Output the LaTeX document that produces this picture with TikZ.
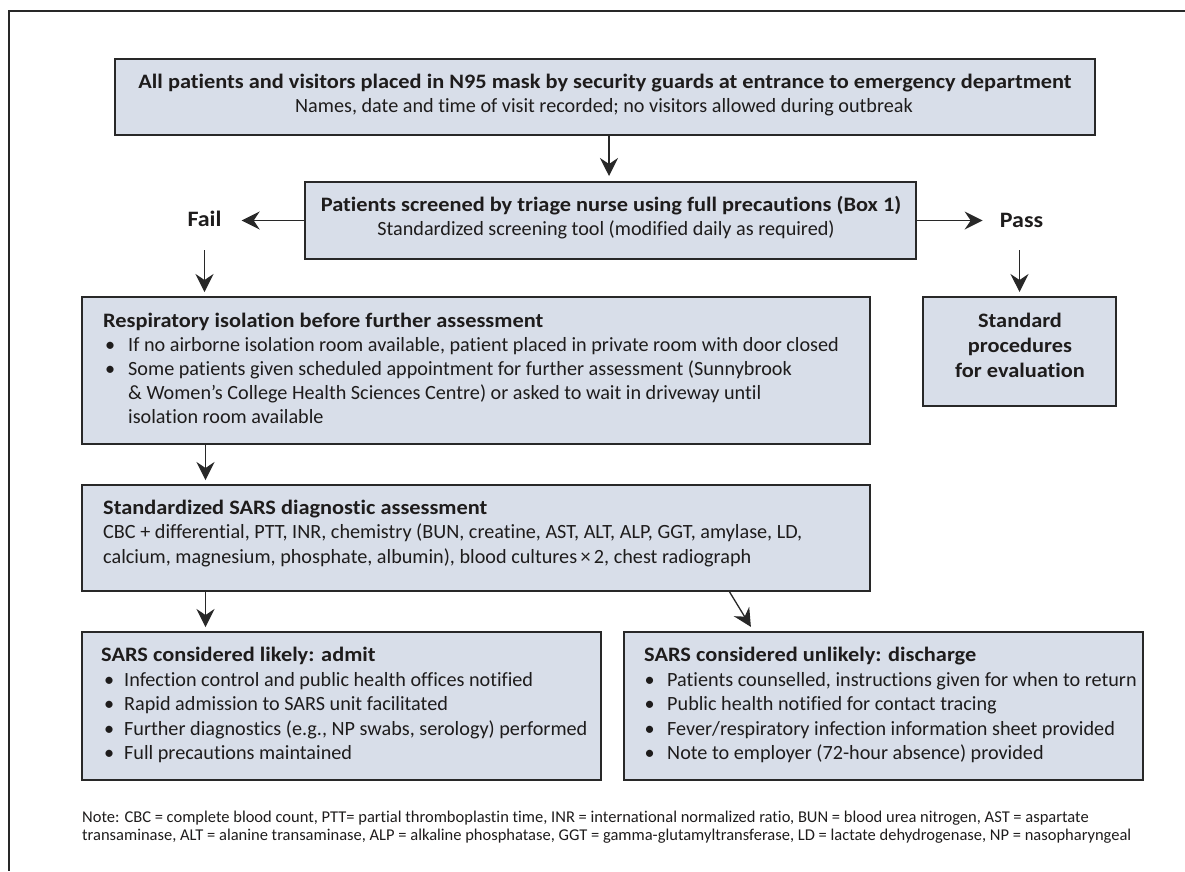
\documentclass[tikz,border=0pt]{standalone}
\usepackage{fontspec}
\setmainfont{Carlito}[Ligatures=NoCommon, BoldFeatures={FakeStretch=1.09}]
\usetikzlibrary{arrows.meta}
\definecolor{boxfill}{RGB}{216,222,233}
\definecolor{edge}{RGB}{40,40,40}
\definecolor{ink}{RGB}{30,28,28}
\newcommand\bul[2]{\makebox[#1][c]{•}#2}
\begin{document}
\begin{tikzpicture}[x=1pt,y=-1pt,
  box/.style={draw=edge, line width=1.4pt, fill=boxfill, inner sep=0pt, outer sep=0pt},
  tl/.style={inner sep=0pt, anchor=base west, text=ink, font=\fontsize{20.2}{24}\selectfont},
  tb/.style={inner sep=0pt, anchor=base west, text=ink, font=\fontsize{20.5}{24}\selectfont\bfseries},
  tc/.style={tl, anchor=base},
  tcb/.style={tb, anchor=base},
  lab/.style={inner sep=0pt, text=ink, font=\fontsize{22}{24}\selectfont\bfseries},
  note/.style={inner sep=0pt, anchor=base west, text=ink, font=\fontsize{16.5}{18}\selectfont},
  arr/.style={-{Stealth[length=18pt,width=18pt,inset=6pt]}, line width=1.3pt, draw=edge},
]
\useasboundingbox (0,0) rectangle (1185,871);
\draw[edge, line width=1.4pt] (1185,11) -- (9,11) -- (9,871);

% boxes
\node[box, minimum width=980pt, minimum height=76pt] (b1) at (605,97) {};
\node[box, minimum width=611pt, minimum height=77pt] (b2) at (610.5,220.5) {};
\node[box, minimum width=788pt, minimum height=147pt] (b3) at (476,370.5) {};
\node[box, minimum width=193pt, minimum height=109pt] (std) at (1019.5,351.5) {};
\node[box, minimum width=788pt, minimum height=106pt] (b4) at (476,538) {};
\node[box, minimum width=519pt, minimum height=148pt] (b5) at (341.5,706) {};
\node[box, minimum width=519pt, minimum height=148pt] (b6) at (883.5,706) {};

% labels
\node[lab] (fail) at (204.5,219) {Fail};
\node[lab] (pass) at (1021.5,220) {Pass};

% box 1 text
\node[tcb] (b1t) at (605,88) {All patients and visitors placed in N95 mask by security guards at entrance to emergency department};
\node[tc] (b1s) at (604,112) {Names, date and time of visit recorded; no visitors allowed during outbreak};

% box 2 text
\node[tcb] (b2t) at (611,211) {Patients screened by triage nurse using full precautions (Box 1)};
\node[tc] (b2s) at (606,235) {Standardized screening tool (modified daily as required)};

% box 3 text
\node[tb] (b3t) at (103,327) {Respiratory isolation before further assessment};
\node[tl] (b3a) at (92,351) {\bul{36pt}{If no airborne isolation room available, patient placed in private room with door closed}};
\node[tl] (b3b) at (92,375) {\bul{36pt}{Some patients given scheduled appointment for further assessment (Sunnybrook}};
\node[tl] (b3c) at (128,399) {\&~Women’s College Health Sciences Centre) or asked to wait in driveway until};
\node[tl] (b3d) at (128,423) {isolation room available};

% standard box text
\node[tcb] (s1) at (1020,327) {Standard};
\node[tcb] (s2) at (1020,352) {procedures};
\node[tcb] (s3) at (1020,377) {for evaluation};

% box 4 text
\node[tb] (b4t) at (103,514) {Standardized SARS diagnostic assessment};
\node[tl] (b4a) at (103,538) {CBC + differential, PTT, INR, chemistry (BUN, creatine, AST, ALT, ALP, GGT, amylase, LD,};
\node[tl] (b4b) at (103,563) {calcium, magnesium, phosphate, albumin), blood cultures\,×\,2, chest radiograph};

% box 5 text
\node[tb] (b5t) at (101,661) {SARS considered likely: admit};
\node[tl] (b5a) at (94,686) {\bul{30pt}{Infection control and public health offices notified}};
\node[tl] (b5b) at (94,710) {\bul{30pt}{Rapid admission to SARS unit facilitated}};
\node[tl] (b5c) at (94,735) {\bul{30pt}{Further diagnostics (e.g., NP swabs, serology) performed}};
\node[tl] (b5d) at (94,759) {\bul{30pt}{Full precautions maintained}};

% box 6 text
\node[tb] (b6t) at (644,661) {SARS considered unlikely: discharge};
\node[tl] (b6a) at (632,686) {\bul{35pt}{Patients counselled, instructions given for when to return}};
\node[tl] (b6b) at (632,710) {\bul{35pt}{Public health notified for contact tracing}};
\node[tl] (b6c) at (632,735) {\bul{35pt}{Fever/respiratory infection information sheet provided}};
\node[tl] (b6d) at (632,759) {\bul{35pt}{Note to employer (72-hour absence) provided}};

% note
\node[note] (n1) at (82,822) {Note: CBC = complete blood count, PTT= partial thromboplastin time, INR = international normalized ratio, BUN = blood urea nitrogen, AST = aspartate};
\node[note] (n2) at (82,840) {transaminase, ALT = alanine transaminase, ALP = alkaline phosphatase, GGT = gamma-glutamyltransferase, LD = lactate dehydrogenase, NP = nasopharyngeal};

% connectors
\draw[arr, shorten >=6pt] ([xshift=494pt]b1.south west) -- ([xshift=304pt]b2.north west);
\draw[arr, shorten >=20pt] (b2.west) -- (b2.west -| fail.east);
\draw[arr, shorten >=17pt] (b2.east) -- (b2.east -| pass.west);
\draw[arr, shorten <=23pt, shorten >=5pt] (fail.south) -- (fail.south |- b3.north);
\draw[arr, shorten <=23pt, shorten >=5pt] (std.north |- pass.south) -- (std.north);
\draw[arr, shorten >=5pt] ([xshift=123.5pt]b3.south west) -- ([xshift=123.5pt]b4.north west);
\draw[arr, shorten >=5pt] ([xshift=123.5pt]b4.south west) -- ([xshift=123.5pt]b5.north west);
\draw[arr, shorten >=6pt] ([xshift=647pt]b4.south west) -- ([xshift=130pt]b6.north west);
\end{tikzpicture}
\end{document}
